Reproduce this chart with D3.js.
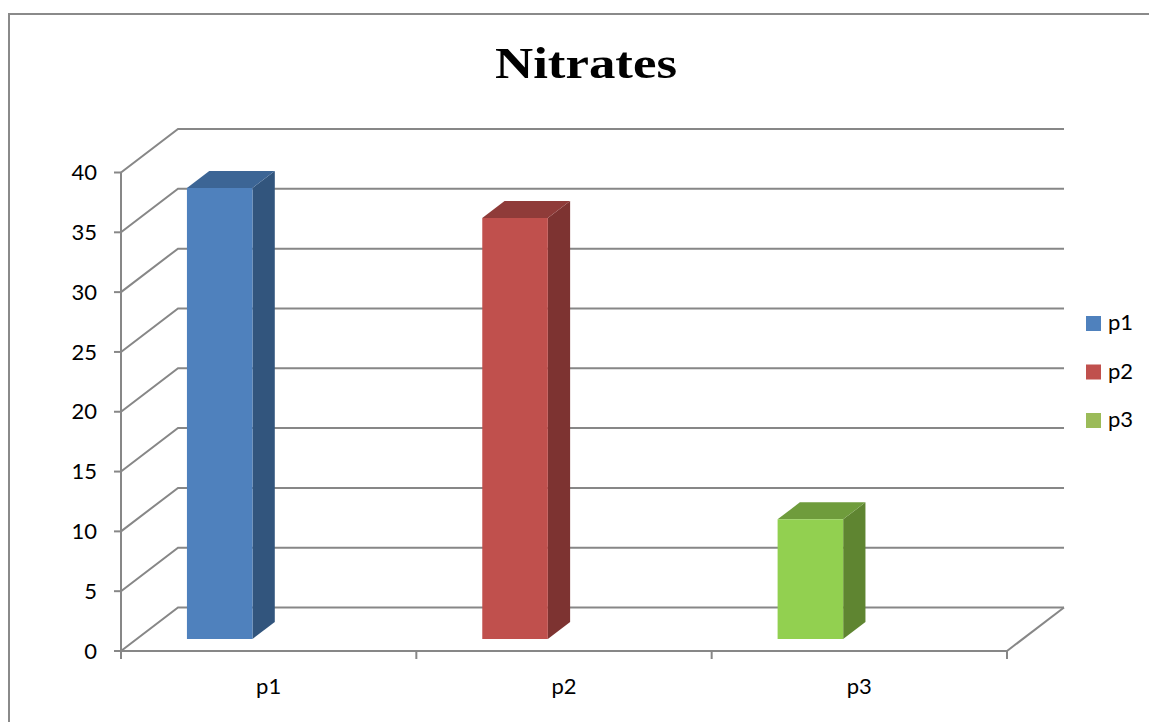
<!DOCTYPE html>
<html>
<head>
<meta charset="utf-8">
<script src="https://cdn.jsdelivr.net/npm/d3@7"></script>
<style>
  html, body { margin: 0; padding: 0; background: #ffffff; }
  svg { display: block; }
</style>
</head>
<body>
<svg id="chart" width="1149" height="722"></svg>
<script>
// Chart data
const title = "Nitrates";
const categories = ["p1", "p2", "p3"];
const values = [37.7, 35.2, 10];
const yTicks = [0, 5, 10, 15, 20, 25, 30, 35, 40];

// Colour palette per category: front face, top face, side face, legend swatch
const palette = {
  p1: { front: "#4f81bd", top: "#3c6595", side: "#32557d", legend: "#4f81bd" },
  p2: { front: "#c0504d", top: "#8f3b39", side: "#7d3331", legend: "#c0504d" },
  p3: { front: "#92d050", top: "#6f9c3c", side: "#5f8531", legend: "#9bbb59" }
};

const svg = d3.select("#chart");
const font = "Lato, 'Open Sans', sans-serif";
const gridColor = "#878787";

// Front plane of the 3D box
const x = d3.scaleBand().domain(categories).range([121, 1007]).paddingInner(0).paddingOuter(0);
const y = d3.scaleLinear().domain([0, 40]).range([651, 172.5]);

// Oblique depth vector (full depth of the floor / side wall)
const depth = { dx: 57, dy: -43.5 };
const proj = (px, py, d) => [px + depth.dx * d, py + depth.dy * d];

// Outer chart-area border
svg.append("rect")
  .attr("x", 9).attr("y", 14)
  .attr("width", 1300).attr("height", 900)
  .attr("fill", "none")
  .attr("stroke", "#8a8a8a")
  .attr("stroke-width", 2);

// Title
svg.append("text")
  .attr("x", 586).attr("y", 78)
  .attr("text-anchor", "middle")
  .attr("font-family", "'Liberation Serif', 'Times New Roman', serif")
  .attr("font-weight", "bold")
  .attr("font-size", 45)
  .attr("textLength", 182)
  .attr("lengthAdjust", "spacingAndGlyphs")
  .attr("fill", "#000")
  .text(title);

// Walls: side-wall diagonals and back-wall horizontals for each tick
const x0 = x.range()[0], x1 = x.range()[1];
const grid = svg.append("g")
  .attr("stroke", gridColor)
  .attr("stroke-width", 2)
  .attr("fill", "none");

grid.selectAll("path.wall")
  .data(yTicks)
  .join("path")
  .attr("class", "wall")
  .attr("d", v => {
    const a = [x0, y(v)];
    const b = proj(x0, y(v), 1);
    const c = proj(x1, y(v), 1);
    return d3.line()([a, b, c]);
  });

// Floor right edge
grid.append("path")
  .attr("d", d3.line()([[x1, y(0)], proj(x1, y(0), 1)]));

// Bars (3D columns)
const barOffset = 0.170;   // fraction of band before the bar
const barWidth = 0.222;    // fraction of band taken by the bar
const dFront = 0.276, dBack = 0.667;

const bars = svg.append("g").selectAll("g.bar")
  .data(categories.map((c, i) => ({ cat: c, value: values[i] })))
  .join("g")
  .attr("class", "bar");

bars.each(function(d) {
  const g = d3.select(this);
  const left = x(d.cat) + x.bandwidth() * barOffset;
  const right = left + x.bandwidth() * barWidth;
  const yb = y(0), yt = y(d.value);
  const fl = proj(left, yb, dFront), fr = proj(right, yb, dFront);
  const tl = proj(left, yt, dFront), tr = proj(right, yt, dFront);
  const btl = proj(left, yt, dBack), btr = proj(right, yt, dBack);
  const bbr = proj(right, yb, dBack);
  const c = palette[d.cat];
  // side face
  g.append("path")
    .attr("d", d3.line()([fr, tr, btr, bbr]) + "Z")
    .attr("fill", c.side);
  // top face
  g.append("path")
    .attr("d", d3.line()([tl, tr, btr, btl]) + "Z")
    .attr("fill", c.top);
  // front face
  g.append("path")
    .attr("d", d3.line()([fl, fr, tr, tl]) + "Z")
    .attr("fill", c.front);
});

// Category axis along the front floor edge
const xAxis = svg.append("g");
xAxis.append("line")
  .attr("x1", x0).attr("x2", x1)
  .attr("y1", y(0)).attr("y2", y(0))
  .attr("stroke", gridColor).attr("stroke-width", 2);
const boundaries = categories.map(c => x(c)).concat([x1]);
xAxis.selectAll("line.tick")
  .data(boundaries)
  .join("line")
  .attr("class", "tick")
  .attr("x1", d => d).attr("x2", d => d)
  .attr("y1", y(0)).attr("y2", y(0) + 8)
  .attr("stroke", gridColor).attr("stroke-width", 2);
xAxis.selectAll("text")
  .data(categories)
  .join("text")
  .attr("x", d => x(d) + x.bandwidth() / 2)
  .attr("y", 694)
  .attr("text-anchor", "middle")
  .attr("font-family", font)
  .attr("font-size", 22)
  .attr("fill", "#000")
  .text(d => d);

// Value axis on the front-left edge
const yAxis = svg.append("g");
yAxis.append("line")
  .attr("x1", x0).attr("x2", x0)
  .attr("y1", y(40)).attr("y2", y(0))
  .attr("stroke", gridColor).attr("stroke-width", 2);
yAxis.selectAll("line.tick")
  .data(yTicks)
  .join("line")
  .attr("class", "tick")
  .attr("x1", x0 - 7).attr("x2", x0)
  .attr("y1", d => y(d)).attr("y2", d => y(d))
  .attr("stroke", gridColor).attr("stroke-width", 2);
yAxis.selectAll("text")
  .data(yTicks)
  .join("text")
  .attr("x", 97)
  .attr("y", d => y(d) + 2)
  .attr("dominant-baseline", "middle")
  .attr("text-anchor", "end")
  .attr("font-family", font)
  .attr("font-size", 22)
  .attr("fill", "#000")
  .text(d => d);

// Legend
const legend = svg.append("g").attr("transform", "translate(1086,316)");
const items = legend.selectAll("g")
  .data(categories)
  .join("g")
  .attr("transform", (d, i) => `translate(0,${i * 48.5})`);
items.append("rect")
  .attr("width", 15).attr("height", 15)
  .attr("fill", d => palette[d].legend);
items.append("text")
  .attr("x", 22).attr("y", 8.5)
  .attr("dominant-baseline", "middle")
  .attr("font-family", font)
  .attr("font-size", 22)
  .attr("fill", "#000")
  .text(d => d);
</script>
</body>
</html>
